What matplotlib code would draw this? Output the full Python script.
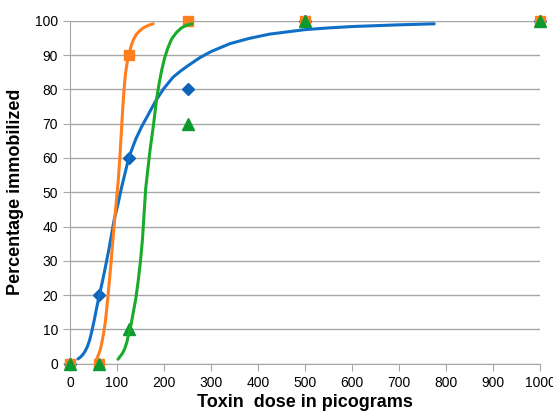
import matplotlib
matplotlib.use("Agg")
import matplotlib.pyplot as plt

plt.rcParams['font.family'] = ['Liberation Sans', 'DejaVu Sans']

# measured points
dose = [0, 62.5, 125, 250, 500, 1000]
blue_pts = [0, 20, 60, 80, 100, 100]
orange_pts = [0, 0, 90, 100, 100, 100]
green_pts = [0, 0, 10, 70, 100, 100]

# fitted curves
blue_cx = [17, 22, 27, 32, 37, 42, 47, 52, 57, 62.5, 69, 75, 83, 94, 102, 109, 117, 125, 133, 140, 152, 164, 175, 184,
           200, 219, 235, 250, 276, 300, 340, 380, 425, 500, 550, 600, 700, 775]
blue_cy = [1.4, 1.9, 2.6, 3.6, 5.0, 7, 9.8, 13, 16.5, 20, 24, 28, 33.5, 42, 46.5, 51, 55.5, 60, 63, 65.5, 69, 72, 74.8, 77,
           80.3, 83.5, 85.3, 86.8, 89.2, 91, 93.3, 94.8, 96.1, 97.4, 97.9, 98.3, 98.8, 99.1]
orange_cx = [57, 60, 63, 66, 69, 72, 75, 78, 81, 84, 87, 90, 93, 96, 99, 103, 106, 109, 112, 115, 118, 122, 125, 130,
             135, 141, 148, 155, 163, 170, 177]
orange_cy = [1.5, 2.4, 3.5, 5.0, 7, 9.3, 12, 15.8, 20, 24.5, 29, 34, 39, 43.5, 48, 54, 60, 67, 74, 80, 84.5, 88.2, 90,
             92.6, 94.5, 96, 97, 97.8, 98.4, 98.8, 99.1]
green_cx = [102, 106, 111, 116, 121, 125, 130, 134, 140, 145, 150, 154, 161, 170, 178, 184, 190, 195, 201, 208, 216,
            226, 237, 248, 260]
green_cy = [1.3, 2.0, 2.9, 4.2, 6.3, 8.8, 11.5, 14.5, 19, 24, 30, 36, 51, 62, 70, 77, 82, 85.5, 89, 92, 94.6, 96.5,
            97.9, 98.7, 99.1]

fig = plt.figure(figsize=(5.53, 4.16), dpi=100)
ax = fig.add_axes([0.1266, 0.1257, 0.8499, 0.8245])

blue, orange, green = '#0f6fc6', '#ff7f1e', '#1aab2a'

ax.plot(dose, blue_pts, 'D', color='#0e63b8', ms=6.5, clip_on=False, zorder=3)
ax.plot(dose, orange_pts, 's', color=orange, ms=7, clip_on=False, zorder=3)
ax.plot(dose, green_pts, '^', color='#0a9a30', ms=8, clip_on=False, zorder=4)

ax.plot(blue_cx, blue_cy, color=blue, lw=2.2, zorder=5, solid_capstyle='round', solid_joinstyle='round')
ax.plot(orange_cx, orange_cy, color=orange, lw=2.2, zorder=5, solid_capstyle='round', solid_joinstyle='round')
ax.plot(green_cx, green_cy, color=green, lw=2.2, zorder=5, solid_capstyle='round', solid_joinstyle='round')

ax.set_xlim(0, 1000)
ax.set_ylim(0, 100)
ax.set_xticks(range(0, 1001, 100))
ax.set_yticks(range(0, 101, 10))
ax.yaxis.grid(True, color='#a6a6a6', lw=1)
ax.set_axisbelow(True)
for s in ['top', 'right']:
    ax.spines[s].set_visible(False)
for s in ['left', 'bottom']:
    ax.spines[s].set_color('#a6a6a6')
ax.tick_params(axis='x', length=5, color='#a6a6a6', labelsize=10)
ax.tick_params(axis='y', length=5, color='#a6a6a6', labelsize=10)

ax.set_xlabel('Toxin  dose in picograms', fontsize=13, fontweight='bold', labelpad=3)
ax.set_ylabel('Percentage immobilized', fontsize=13, fontweight='bold', labelpad=8)

fig.savefig('out.png', dpi=100)
